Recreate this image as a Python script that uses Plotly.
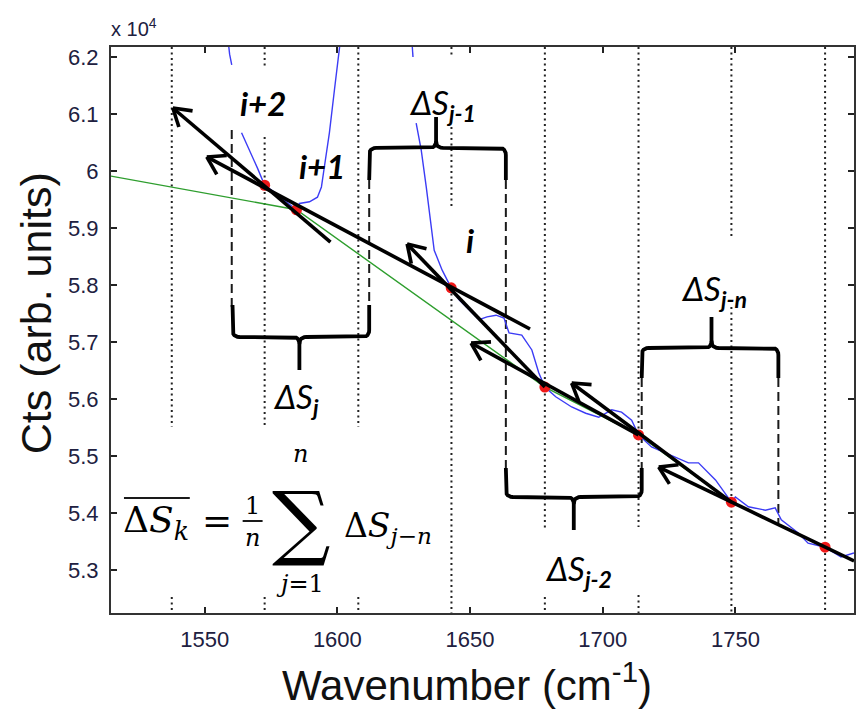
import math
import plotly.graph_objects as go

# ---------------------------------------------------------------- data ----
# spectrum (counts in units of 1e4); None breaks where the trace leaves the
# axes or runs behind a label
spectrum_x = [1558.8, 1559.4, 1560.2, None,
              1563.9, 1566.9, 1569.9, 1572.6, 1576.5, 1580.5, 1584.6, 1585.7,
              1589.5, 1592.5, 1594.0, 1595.1, 1597.0, 1598.9, 1600.0, 1600.8, 1601.3, None,
              1628.0, 1628.2, 1628.5, None,
              1629.7, 1631.6, 1633.5, 1635.3, 1636.5, 1639.5, 1642.1, 1642.9,
              1645.9, 1653.4, 1656.4, 1659.8, 1662.8, 1664.7, 1669.5, 1673.3, 1675.9,
              1678.2, 1682.3, 1688.3, 1693.6, 1698.5, 1703.4, 1707.1, 1710.9,
              1713.5, 1718.4, 1723.7, 1728.6, 1732.3, 1736.1, 1739.8, 1742.5,
              1748.5, 1750.0, 1754.9, 1761.3, 1765.0, 1767.3, 1773.7, 1777.4,
              1783.8, 1789.8, 1794.7]
spectrum_y = [6.230, 6.205, 6.186, None,
              6.067, 6.037, 6.005, 5.975, 5.962, 5.947, 5.932, 5.943,
              5.946, 5.954, 5.972, 6.007, 6.067, 6.142, 6.189, 6.212, 6.235, None,
              6.235, 6.212, 6.200, None,
              6.084, 6.037, 5.972, 5.902, 5.861, 5.826, 5.804, 5.795,
              5.774, 5.739, 5.744, 5.747, 5.742, 5.716, 5.712, 5.686, 5.646,
              5.621, 5.604, 5.586, 5.575, 5.568, 5.581, 5.577, 5.563,
              5.537, 5.516, 5.505, 5.496, 5.488, 5.488, 5.470, 5.458,
              5.419, 5.428, 5.411, 5.405, 5.409, 5.388, 5.365, 5.347,
              5.340, 5.323, 5.330]

# baseline estimate (green)
baseline_x = [1514.7, 1584.6, 1678.2, 1713.5, 1748.5, 1783.8, 1794.7]
baseline_y = [5.991, 5.932, 5.621, 5.537, 5.419, 5.340, 5.316]

# sampled nodes (red)
node_x = [1572.6, 1584.6, 1642.9, 1678.2, 1713.5, 1748.5, 1783.8]
node_y = [5.975, 5.932, 5.795, 5.621, 5.537, 5.419, 5.340]

# slope vectors: tail -> tip
arrow_tail_x = [1597.4, 1672.6, 1678.2, 1713.5, 1748.5, 1794.7]
arrow_tail_y = [5.8754, 5.7228, 5.621, 5.537, 5.419, 5.316]
arrow_tip_x = [1538.0, 1550.8, 1626.3, 1650.4, 1688.3, 1721.1]
arrow_tip_y = [6.1105, 6.0246, 5.872, 5.6982, 5.628, 5.4807]

# dotted sampling grid with its visible spans (y_low, y_high)
grid_x = [1537.6, 1572.6, 1607.9, 1643.0, 1678.2, 1713.5, 1748.5, 1783.8]
grid_spans = [
    [(5.5509, 6.2175), (5.2246, 5.2526)],
    [(6.1825, 6.2175), (5.5509, 6.0596), (5.2246, 5.2526)],
    [(5.5509, 6.2175), (5.2246, 5.2526)],
    [(6.2035, 6.2175), (5.9368, 6.0772), (5.2246, 5.7947)],
    [(5.3702, 6.2175), (5.2246, 5.2526)],
    [(5.3754, 6.2175), (5.2246, 5.2561)],
    [(5.8825, 6.2175), (5.2246, 5.7614)],
    [(5.2246, 6.2175)],
]

# dashed window limits
window_x = [1560.2, 1612.0, 1663.5, 1714.7, 1766.2]
window_y0 = [6.0719, 5.9842, 5.9842, 5.6368, 5.6368]
window_y1 = [5.7614, 5.7649, 5.4790, 5.4790, 5.3825]

# braces: left, centre, right, leg end, bar, tip
brace_left = [1560.5, 1612.0, 1663.5, 1714.7]
brace_mid = [1585.7, 1637.2, 1689.1, 1741.0]
brace_right = [1612.0, 1663.5, 1714.7, 1766.2]
brace_leg = [5.7649, 5.9842, 5.4790, 5.6368]
brace_bar = [5.7088, 6.0404, 5.4281, 5.6895]
brace_tip = [5.6509, 6.0947, 5.3702, 5.7439]

x_ticks = [1550, 1600, 1650, 1700, 1750]
y_ticks = [5.3, 5.4, 5.5, 5.6, 5.7, 5.8, 5.9, 6.0, 6.1, 6.2]
y_ticktext = ["5.3", "5.4", "5.5", "5.6", "5.7", "5.8", "5.9", "6", "6.1", "6.2"]

# -------------------------------------------------------------- layout ----
X_RANGE = [1514.7, 1794.7]
Y_RANGE = [5.2246, 6.2175]
FIG_W, FIG_H = 856, 712
M_L, M_R, M_T, M_B = 111, 0, 47, 99
PW = FIG_W - M_L - M_R
PH = FIG_H - M_T - M_B


def d2p(u, v):
    px = M_L + (u - X_RANGE[0]) / (X_RANGE[1] - X_RANGE[0]) * PW
    py = M_T + (Y_RANGE[1] - v) / (Y_RANGE[1] - Y_RANGE[0]) * PH
    return px, py


def p2d(px, py):
    u = X_RANGE[0] + (px - M_L) / PW * (X_RANGE[1] - X_RANGE[0])
    v = Y_RANGE[1] - (py - M_T) / PH * (Y_RANGE[1] - Y_RANGE[0])
    return u, v


def paper(px, py):
    return (px - M_L) / PW, (FIG_H - M_B - py) / PH


fig = go.Figure()


def add_path(xs, ys, color, width, dash=None):
    fig.add_trace(go.Scatter(x=xs, y=ys, mode="lines",
                             line=dict(color=color, width=width, dash=dash),
                             hoverinfo="skip", showlegend=False))


# dotted grid
gx, gy = [], []
for x, spans in zip(grid_x, grid_spans):
    for lo, hi in spans:
        gx += [x, x, None]
        gy += [hi, lo, None]
add_path(gx, gy, "#222222", 2.0, "2px,3.5px")

# dashed windows
wx, wy = [], []
for x, a, b in zip(window_x, window_y0, window_y1):
    wx += [x, x, None]
    wy += [a, b, None]
add_path(wx, wy, "#1a1a1a", 2.0, "9px,5px")

# baseline and spectrum
add_path(baseline_x, baseline_y, "#2e9e2e", 1.4)
add_path(spectrum_x, spectrum_y, "#3c3cf5", 1.4)

fig.add_trace(go.Scatter(x=node_x, y=node_y, mode="markers",
                         marker=dict(color="#f01818", size=11, line=dict(width=0)),
                         hoverinfo="skip", showlegend=False))

# slope arrows with open heads
HEAD_LEN, HEAD_ANG = 20.0, math.radians(32)
ax_, ay_ = [], []
for tx, ty, hx, hy in zip(arrow_tail_x, arrow_tail_y, arrow_tip_x, arrow_tip_y):
    ax_ += [tx, hx, None]
    ay_ += [ty, hy, None]
    tpx, tpy = d2p(tx, ty)
    hpx, hpy = d2p(hx, hy)
    dx, dy = tpx - hpx, tpy - hpy
    n = math.hypot(dx, dy)
    dx, dy = dx / n, dy / n
    for s in (1, -1):
        c, si = math.cos(s * HEAD_ANG), math.sin(s * HEAD_ANG)
        wxp = hpx + HEAD_LEN * (dx * c - dy * si)
        wyp = hpy + HEAD_LEN * (dx * si + dy * c)
        wu, wv = p2d(wxp, wyp)
        ax_ += [wu, hx, None]
        ay_ += [wv, hy, None]
add_path(ax_, ay_, "black", 3.6)


# curly braces
def quad(p0, p1, p2, n=6):
    pts = []
    for k in range(1, n + 1):
        t = k / n
        pts.append(((1 - t) ** 2 * p0[0] + 2 * (1 - t) * t * p1[0] + t * t * p2[0],
                    (1 - t) ** 2 * p0[1] + 2 * (1 - t) * t * p1[1] + t * t * p2[1]))
    return pts


bx, by = [], []
R = 7.0
for xl, xm, xr, yl, yb, yt in zip(brace_left, brace_mid, brace_right,
                                  brace_leg, brace_bar, brace_tip):
    pxl, pyl = d2p(xl, yl)
    pxm, pyb = d2p(xm, yb)
    pxr, _ = d2p(xr, yb)
    _, pyt = d2p(xm, yt)
    s = 1 if pyt > pyb else -1
    left = [(pxl, pyl), (pxl, pyb - s * R)]
    left += quad((pxl, pyb - s * R), (pxl, pyb), (pxl + R, pyb))
    left += [(pxm - R, pyb)]
    left += quad((pxm - R, pyb), (pxm, pyb), (pxm, pyb + s * R))
    left += [(pxm, pyt)]
    right = [(pxm, pyb + s * R)]
    right += quad((pxm, pyb + s * R), (pxm, pyb), (pxm + R, pyb))
    right += [(pxr - R, pyb)]
    right += quad((pxr - R, pyb), (pxr, pyb), (pxr, pyb - s * R))
    right += [(pxr, pyl)]
    for part in (left, right):
        for p in part:
            u, v = p2d(*p)
            bx.append(u)
            by.append(v)
        bx.append(None)
        by.append(None)
add_path(bx, by, "black", 3.8)

# ------------------------------------------------------------- text -------
LABEL_FONT = "Lato, 'Open Sans', sans-serif"
MATH_FONT = "'DejaVu Serif', 'Liberation Serif', serif"
annotations = []


def note(text, px, py, size, family=LABEL_FONT, xanchor="center", yanchor="middle",
         color="black", angle=0):
    x, y = paper(px, py)
    annotations.append(dict(text=text, x=x, y=y, xref="paper", yref="paper",
                            showarrow=False, xanchor=xanchor, yanchor=yanchor,
                            textangle=angle,
                            font=dict(family=family, size=size, color=color)))


note("<b><i>i+2</i></b>", 263, 103, 33)
note("<b><i>i+1</i></b>", 323, 166, 33)
note("<b><i>i</i></b>", 471, 240, 33)
note("<i>ΔS</i><sub><b><i>j-1</i></b></sub>", 408, 104, 33, xanchor="left")
note("<i>ΔS</i><sub><b><i>j</i></b></sub>", 271, 398, 33, xanchor="left")
note("<i>ΔS</i><sub><b><i>j-2</i></b></sub>", 544, 570, 33, xanchor="left")
note("<i>ΔS</i><sub><b><i>j-n</i></b></sub>", 681, 290, 33, xanchor="left")

# averaging formula
note("Δ<i>S</i><sub><i>k</i></sub>", 121, 522, 36, family=MATH_FONT, xanchor="left")
note("=", 217, 520, 36, family=MATH_FONT)
note("1", 253, 506, 24, family=MATH_FONT)
note("<i>n</i>", 253, 538, 24, family=MATH_FONT)
note("∑", 302, 521, 82, family=MATH_FONT)
note("<i>n</i>", 301, 454, 24, family=MATH_FONT)
note("<i>j</i>=1", 301, 584, 24, family=MATH_FONT)
note("Δ<i>S</i><sub><i>j</i>−<i>n</i></sub>", 343, 527, 33, family=MATH_FONT, xanchor="left")

# axis titles and exponent
note("Cts (arb. units)", 36, 313, 43, family="'Liberation Sans', Arial, sans-serif",
     angle=-90, color="#111111")
note("Wavenumber (cm<sup>-1</sup>)", 468, 682, 42,
     family="'Liberation Sans', Arial, sans-serif", color="#111111")
note("x 10<sup>4</sup>", 109, 28, 20, family="'Liberation Sans', Arial, sans-serif",
     xanchor="left", color="#202040")

shapes = []
for (x0, y0, x1, y1) in [(124, 498, 190, 498), (243, 521, 263, 521)]:
    a0, b0 = paper(x0, y0)
    a1, b1 = paper(x1, y1)
    shapes.append(dict(type="line", xref="paper", yref="paper", x0=a0, y0=b0,
                       x1=a1, y1=b1, line=dict(color="#1a1a1a", width=2)))

TICK_FONT = dict(family="'Liberation Sans', Arial, sans-serif", size=22, color="#202040")
fig.update_layout(
    width=FIG_W, height=FIG_H,
    margin=dict(l=M_L, r=M_R, t=M_T, b=M_B, pad=0),
    paper_bgcolor="white", plot_bgcolor="white",
    showlegend=False,
    annotations=annotations,
    shapes=shapes,
    xaxis=dict(range=X_RANGE, tickvals=x_ticks, ticks="inside", ticklen=6,
               tickwidth=1.5, tickcolor="#222", showline=True, linecolor="#333",
               linewidth=2, mirror="ticks", showgrid=False, zeroline=False,
               tickfont=TICK_FONT, ticklabelstandoff=6),
    yaxis=dict(range=Y_RANGE, tickvals=y_ticks, ticktext=y_ticktext, ticks="inside",
               ticklen=6, tickwidth=1.5, tickcolor="#222", showline=True,
               linecolor="#333", linewidth=2, mirror="ticks", showgrid=False,
               zeroline=False, tickfont=TICK_FONT, ticklabelstandoff=6),
)

fig.write_html("out.html")
